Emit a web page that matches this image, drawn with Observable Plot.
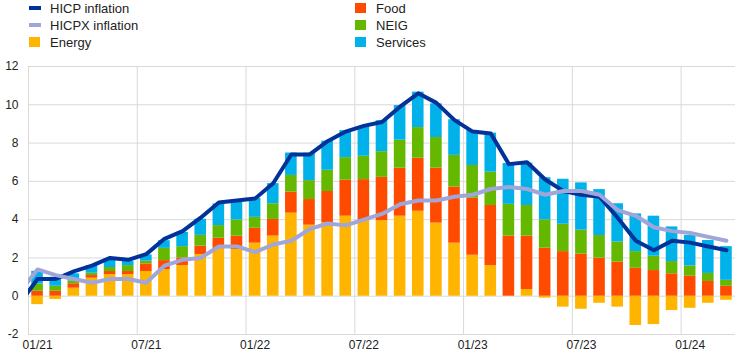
<!DOCTYPE html>
<html><head><meta charset="utf-8">
<script src="https://cdn.jsdelivr.net/npm/d3@7"></script>
<script src="https://cdn.jsdelivr.net/npm/@observablehq/plot@0.6"></script>
<style>
body{margin:0;background:#fff;font-family:"Liberation Sans",Arial,sans-serif;}
#legend{position:relative;width:745px;height:52px;font-size:13px;color:#222;}
.txt{position:absolute;height:17px;line-height:17px;white-space:nowrap;}
.sw{position:absolute;}
</style></head><body>
<div id="legend"></div><div id="chart"></div>
<script>
// Months shown as bars (01/21 .. 03/24)
const months = ["01/21","02/21","03/21","04/21","05/21","06/21","07/21","08/21","09/21","10/21","11/21","12/21",
"01/22","02/22","03/22","04/22","05/22","06/22","07/22","08/22","09/22","10/22","11/22","12/22",
"01/23","02/23","03/23","04/23","05/23","06/23","07/23","08/23","09/23","10/23","11/23","12/23",
"01/24","02/24","03/24"];
// Line months include 12/20 (clipped at the left edge)
const lineMonths = ["12/20"].concat(months);

const energy = [-0.44,-0.17,0.42,0.94,1.13,1.13,1.29,1.39,1.60,2.18,2.47,2.44,
2.77,3.14,4.34,3.71,3.85,4.18,3.95,3.95,4.18,4.44,3.82,2.77,
2.14,1.60,0.0,0.35,-0.10,-0.57,-0.68,-0.37,-0.57,-1.53,-1.48,-0.75,
-0.63,-0.37,-0.21];
const food = [0.26,0.26,0.23,0.14,0.16,0.16,0.40,0.47,0.40,0.44,0.56,0.70,
0.78,0.87,1.10,1.34,1.62,1.88,2.14,2.26,2.51,2.77,2.87,2.93,
2.98,3.14,3.14,2.79,2.51,2.33,2.20,1.99,1.78,1.46,1.34,1.17,
1.06,0.77,0.52];
const neig = [0.38,0.26,0.14,0.12,0.21,0.31,0.14,0.64,0.59,0.56,0.66,0.84,
0.57,0.82,0.87,0.99,1.11,1.18,1.22,1.34,1.46,1.60,1.60,1.66,
1.71,1.74,1.66,1.60,1.48,1.43,1.25,1.18,1.05,0.87,0.75,0.64,
0.52,0.42,0.31];
const services = [0.66,0.47,0.38,0.40,0.45,0.23,0.33,0.40,0.75,0.84,1.13,0.94,
0.99,1.05,1.17,1.43,1.52,1.41,1.55,1.62,1.81,1.85,1.76,1.86,
1.83,2.04,2.13,2.21,2.20,2.35,2.47,2.40,2.00,1.97,2.09,1.81,
1.59,1.72,1.76];
const hicp = [-0.4,
0.9,0.9,1.3,1.6,2.0,1.9,2.2,3.0,3.4,4.1,4.9,5.0,
5.1,5.9,7.4,7.4,8.1,8.6,8.9,9.1,9.9,10.6,10.1,9.2,
8.6,8.5,6.9,7.0,6.1,5.5,5.3,5.2,4.1,2.9,2.4,2.9,
2.8,2.6,2.4];
const hicpx = [0.2,
1.4,1.1,0.9,0.7,0.9,0.9,0.7,1.6,1.9,2.0,2.6,2.6,
2.3,2.7,2.9,3.5,3.8,3.7,4.0,4.3,4.8,5.0,5.0,5.2,
5.3,5.6,5.7,5.6,5.3,5.5,5.5,5.3,4.5,4.2,3.6,3.4,
3.3,3.1,2.9];

const xTickLabels = ["01/21","07/21","01/22","07/22","01/23","07/23","01/24"];
const yTicks = [-2,0,2,4,6,8,10,12];

const seriesNames = ["Energy","Food","NEIG","Services"];
const seriesValues = [energy, food, neig, services];
const seriesColors = ["#FFB400","#FF4B00","#65B800","#00B1EA"];
const hicpColor = "#003299", hicpxColor = "#A1A6D9";

// Build tables
const bars = [];
months.forEach((m, i) => seriesNames.forEach((s, k) => bars.push({i, month: m, series: s, value: seriesValues[k][i]})));
const hicpData = lineMonths.map((m, k) => ({i: k - 1, month: m, v: hicp[k]}));
const hicpxData = lineMonths.map((m, k) => ({i: k - 1, month: m, v: hicpx[k]}));
const tickIdx = xTickLabels.map(l => months.indexOf(l));

// Legend
const legend = document.getElementById("legend");
const items = [
  {label: "HICP inflation", type: "line", color: hicpColor, col: 0, row: 0},
  {label: "HICPX inflation", type: "line", color: hicpxColor, col: 0, row: 1},
  {label: "Energy", type: "box", color: seriesColors[0], col: 0, row: 2},
  {label: "Food", type: "box", color: seriesColors[1], col: 1, row: 0},
  {label: "NEIG", type: "box", color: seriesColors[2], col: 1, row: 1},
  {label: "Services", type: "box", color: seriesColors[3], col: 1, row: 2}
];
const colX = [29, 355];
items.forEach(it => {
  const top = it.row * 17;
  const sw = document.createElement("div");
  sw.className = "sw";
  sw.style.left = colX[it.col] + "px";
  sw.style.width = "12px";
  sw.style.background = it.color;
  if (it.type === "line") { sw.style.top = (top + 6) + "px"; sw.style.height = "4px"; }
  else { sw.style.top = (top + 3) + "px"; sw.style.height = "10px"; sw.style.width = "11px"; }
  legend.appendChild(sw);
  const t = document.createElement("div");
  t.className = "txt";
  t.style.left = (colX[it.col] + 21) + "px";
  t.style.top = top + "px";
  t.textContent = it.label;
  legend.appendChild(t);
});

const chart = Plot.plot({
  width: 745, height: 310,
  marginTop: 14, marginBottom: 28, marginLeft: 28, marginRight: 10,
  style: {fontFamily: '"Liberation Sans", Arial, sans-serif', fontSize: "12px", color: "#222", background: "#fff"},
  x: {type: "linear", domain: [0, months.length]},
  y: {domain: [-2, 12]},
  color: {domain: seriesNames, range: seriesColors},
  marks: [
    Plot.gridY(yTicks, {stroke: "#d9d9d9", strokeOpacity: 1}),
    Plot.gridX(tickIdx, {stroke: "#d9d9d9", strokeOpacity: 1}),
    Plot.rectY(bars, {x1: d => d.i + 0.18, x2: d => d.i + 0.82, y: "value", fill: "series"}),
    Plot.line(hicpData, {x: d => d.i + 0.5, y: "v", stroke: hicpColor, strokeWidth: 4, strokeLinejoin: "round", clip: true}),
    Plot.line(hicpxData, {x: d => d.i + 0.5, y: "v", stroke: hicpxColor, strokeWidth: 4, strokeLinejoin: "round", clip: true}),
    Plot.axisY(yTicks, {tickSize: 0, tickPadding: 10, tickFormat: d => String(d), label: null}),
    Plot.axisX(tickIdx.map(i => i + 0.5), {tickSize: 0, tickPadding: 6, tickFormat: d => xTickLabels[tickIdx.indexOf(d - 0.5)], label: null})
  ]
});
document.getElementById("chart").appendChild(chart);
</script>
</body></html>
